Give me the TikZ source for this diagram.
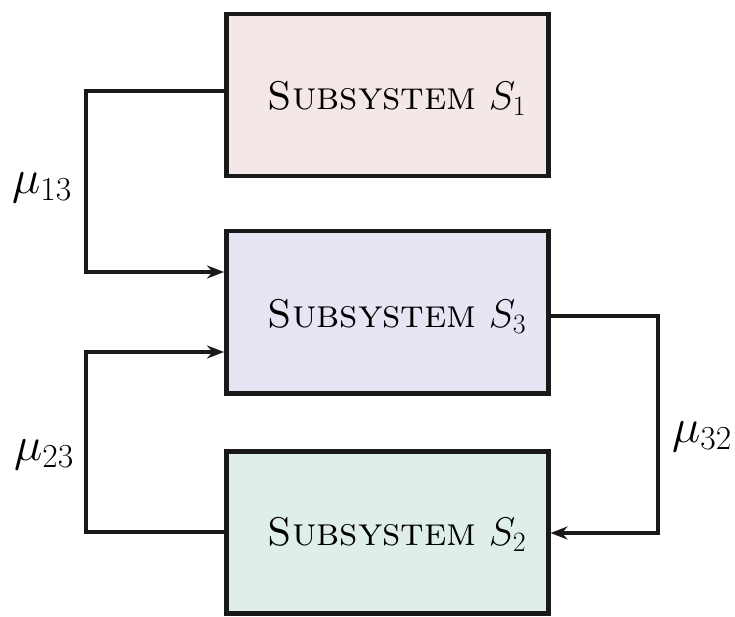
\RequirePackage{fix-cm}
\documentclass[tikz,border=0pt]{standalone}
\usetikzlibrary{arrows.meta}
\definecolor{fillA}{RGB}{243,231,231}
\definecolor{fillB}{RGB}{229,229,243}
\definecolor{fillC}{RGB}{224,238,233}
\begin{document}
\begin{tikzpicture}[x=1pt,y=-1pt,
  subbox/.style={draw=black!90,line width=4.5pt,minimum width=322pt,minimum height=162pt,inner sep=0pt,anchor=north west},
  boxtext/.style={font=\fontsize{40}{46}\selectfont,anchor=center},
  conn/.style={draw=black!90,line width=3.5pt,-{Stealth[length=17pt,width=13pt]}},
  lab/.style={font=\fontsize{48}{54}\selectfont}]
\useasboundingbox (0,0) rectangle (735,617);
\node[subbox,fill=fillA] (s1) at (224,12) {};
\node[subbox,fill=fillB] (s3) at (224,229) {};
\node[subbox,fill=fillC] (s2) at (224,449) {};
\node[boxtext] (t1) at (397,98) {\textsc{Subsystem} $S_1$};
\node[boxtext] (t3) at (397,316) {\textsc{Subsystem} $S_3$};
\node[boxtext] (t2) at (397,534) {\textsc{Subsystem} $S_2$};
\coordinate (a1) at (s1.west |- 0,91);
\coordinate (a3) at (s3.west |- 0,272);
\coordinate (b3) at (s3.west |- 0,352);
\coordinate (b2) at (s2.west |- 0,532);
\coordinate (c3) at (s3.east |- 0,316);
\coordinate (c2) at (s2.east |- 0,533);
\draw[conn] (a1) -| (86,181) |- (a3);
\draw[conn] (b2) -| (86,440) |- (b3);
\draw[conn] (c3) -| (658,420) |- (c2);
\node[lab] (m13) at (42,188) {$\mu_{13}$};
\node[lab] (m23) at (44,455) {$\mu_{23}$};
\node[lab] (m32) at (702,437) {$\mu_{32}$};
\end{tikzpicture}
\end{document}
